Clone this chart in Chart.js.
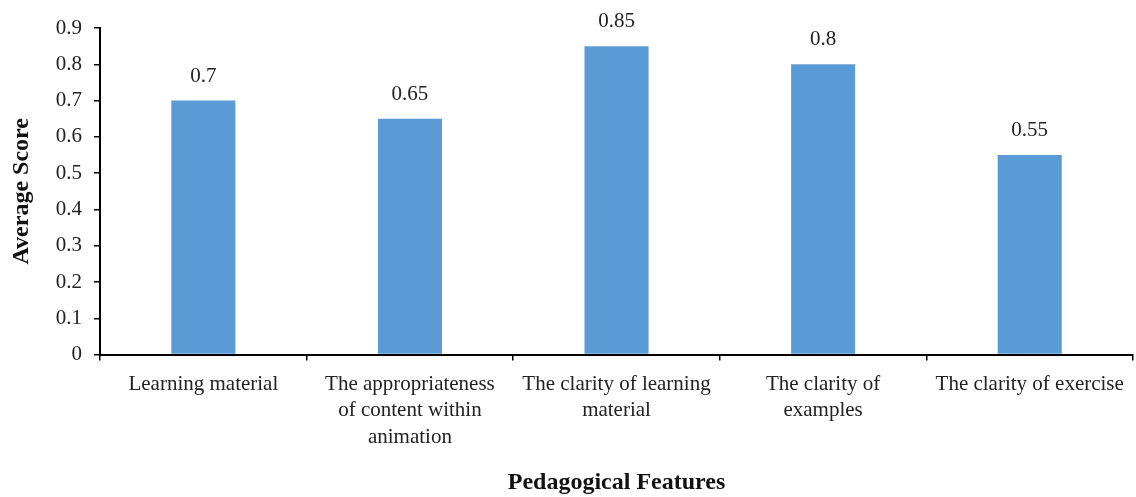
<!DOCTYPE html>
<html>
<head>
<meta charset="utf-8">
<script src="https://cdn.jsdelivr.net/npm/chart.js@4/dist/chart.umd.min.js"></script>
<style>
  html, body { margin: 0; padding: 0; background: #fff; }
  #wrap { width: 1136px; height: 497px; }
</style>
</head>
<body>
<div id="wrap"><canvas id="chart" width="1136" height="497"></canvas></div>
<script>
const categories = [
  ['Learning material'],
  ['The appropriateness', 'of content within', 'animation'],
  ['The clarity of learning', 'material'],
  ['The clarity of', 'examples'],
  ['The clarity of exercise']
];
const scores = [0.7, 0.65, 0.85, 0.8, 0.55];
const yTicks = { min: 0, max: 0.9, step: 0.1 };

const FONT = '"Liberation Serif", "DejaVu Serif", serif';

// value labels above each bar
const barLabels = {
  id: 'barLabels',
  afterDatasetsDraw(chart) {
    const ctx = chart.ctx;
    const meta = chart.getDatasetMeta(0);
    ctx.save();
    ctx.font = '21px ' + FONT;
    ctx.fillStyle = '#222';
    ctx.textAlign = 'center';
    ctx.textBaseline = 'bottom';
    meta.data.forEach((bar, i) => {
      ctx.fillText(String(scores[i]), bar.x, bar.y - 14);
    });
    ctx.restore();
  }
};

new Chart(document.getElementById('chart'), {
  type: 'bar',
  data: {
    labels: categories,
    datasets: [{
      data: scores,
      backgroundColor: '#5B9BD5',
      barPercentage: 0.31,
      categoryPercentage: 1
    }]
  },
  plugins: [barLabels],
  options: {
    responsive: false,
    animation: false,
    layout: { padding: { top: 28, right: 3, left: 7, bottom: 0 } },
    plugins: { legend: { display: false }, tooltip: { enabled: false } },
    scales: {
      x: {
        grid: { offset: true, drawOnChartArea: false, drawTicks: true, tickLength: 6, color: '#000', lineWidth: 1.5 },
        border: { display: true, color: '#000', width: 2 },
        ticks: {
          color: '#222', font: { family: FONT, size: 21, lineHeight: 1.28 }, maxRotation: 0, autoSkip: false, padding: 10
        },
        title: {
          display: true, text: 'Pedagogical Features', color: '#111',
          font: { family: FONT, size: 24, weight: 'bold' }, padding: { top: 7, bottom: 0 }
        }
      },
      y: {
        min: yTicks.min, max: yTicks.max,
        grid: { drawOnChartArea: false, drawTicks: true, tickLength: 6, color: '#000', lineWidth: 1.5 },
        border: { display: true, color: '#000', width: 2 },
        ticks: {
          stepSize: yTicks.step, color: '#222', font: { family: FONT, size: 21 }, padding: 12,
          callback: v => String(Math.round(v * 10) / 10)
        },
        title: {
          display: true, text: 'Average Score', color: '#111',
          font: { family: FONT, size: 24, weight: 'bold' }, padding: { top: 0, bottom: 8 }
        }
      }
    }
  }
});
</script>
</body>
</html>
